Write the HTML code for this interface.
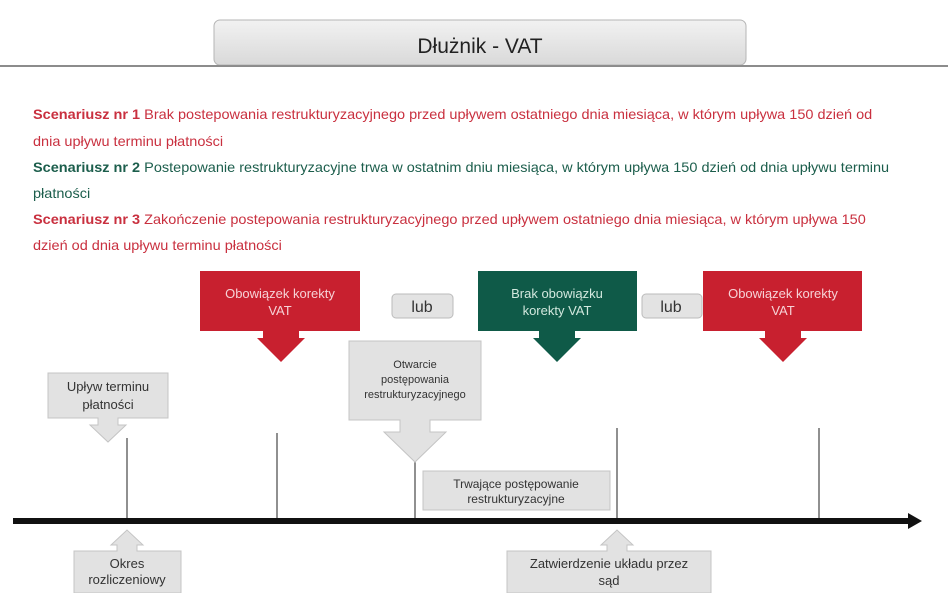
<!DOCTYPE html>
<html><head><meta charset="utf-8"><style>
html,body{margin:0;padding:0;background:#fff;}
body{width:948px;height:593px;overflow:hidden;position:relative;font-family:"Liberation Sans",sans-serif;}
.t{position:absolute;left:33px;font-size:14px;white-space:nowrap;transform-origin:0 0;transform:scaleX(1.035);}
.r{color:#c9303f}.g{color:#1c5e4c}
</style></head><body>
<svg width="948" height="593" style="position:absolute;left:0;top:0" font-family="Liberation Sans, sans-serif">
<defs>
<linearGradient id="hg" x1="0" y1="0" x2="0" y2="1"><stop offset="0" stop-color="#f2f2f2"/><stop offset="1" stop-color="#d9d9d9"/></linearGradient>
</defs>
<line x1="0" y1="66" x2="948" y2="66" stroke="#666" stroke-width="1.5"/>
<rect x="214" y="20" width="532" height="45" rx="6" fill="url(#hg)" stroke="#b5b5b5"/>
<text x="480" y="53" font-size="21" text-anchor="middle" fill="#222">Dłużnik - VAT</text>

<rect x="200" y="271" width="160" height="60" fill="#c8202f"/>
<polygon points="263,331 299,331 299,338 305,338 281,362 257,338 263,338" fill="#c8202f"/>
<text x="280" y="298" font-size="13" text-anchor="middle" fill="#f6d2d6">Obowiązek korekty</text>
<text x="280" y="315" font-size="13" text-anchor="middle" fill="#f6d2d6">VAT</text>
<rect x="392" y="294" width="61" height="24" rx="4" fill="#e3e3e3" stroke="#bbb"/>
<text x="422" y="312" font-size="16" text-anchor="middle" fill="#333">lub</text>
<rect x="478" y="271" width="159" height="60" fill="#0f5a48"/>
<polygon points="539,331 575,331 575,338 581,338 557,362 533,338 539,338" fill="#0f5a48"/>
<text x="557" y="298" font-size="13" text-anchor="middle" fill="#d2e8de">Brak obowiązku</text>
<text x="557" y="315" font-size="13" text-anchor="middle" fill="#d2e8de">korekty VAT</text>
<rect x="642" y="294" width="60" height="24" rx="4" fill="#e3e3e3" stroke="#bbb"/>
<text x="671" y="312" font-size="16" text-anchor="middle" fill="#333">lub</text>
<rect x="703" y="271" width="159" height="60" fill="#c8202f"/>
<polygon points="765,331 801,331 801,338 807,338 783,362 759,338 765,338" fill="#c8202f"/>
<text x="783" y="298" font-size="13" text-anchor="middle" fill="#f6d2d6">Obowiązek korekty</text>
<text x="783" y="315" font-size="13" text-anchor="middle" fill="#f6d2d6">VAT</text>

<g stroke="#555" stroke-width="1.3">
<line x1="127" y1="438" x2="127" y2="518"/>
<line x1="277" y1="433" x2="277" y2="518"/>
<line x1="415" y1="462" x2="415" y2="518"/>
<line x1="617" y1="428" x2="617" y2="518"/>
<line x1="819" y1="428" x2="819" y2="518"/>
</g>

<polygon points="48,373 168,373 168,418 118,418 118,425 126,425 108,442 90,425 98,425 98,418 48,418" fill="#e2e2e2" stroke="#c4c4c4"/>
<text x="108" y="391" font-size="13" text-anchor="middle" fill="#333">Upływ terminu</text>
<text x="108" y="409" font-size="13" text-anchor="middle" fill="#333">płatności</text>
<polygon points="349,341 481,341 481,420 430,420 430,432 446,432 415,462 384,432 400,432 400,420 349,420" fill="#e2e2e2" stroke="#c4c4c4"/>
<text x="415" y="368" font-size="11" text-anchor="middle" fill="#333">Otwarcie</text>
<text x="415" y="383" font-size="11" text-anchor="middle" fill="#333">postępowania</text>
<text x="415" y="398" font-size="11" text-anchor="middle" fill="#333">restrukturyzacyjnego</text>
<rect x="423" y="471" width="187" height="39" fill="#e2e2e2" stroke="#c4c4c4"/>
<text x="516" y="488" font-size="12" text-anchor="middle" fill="#333">Trwające postępowanie</text>
<text x="516" y="503" font-size="12" text-anchor="middle" fill="#333">restrukturyzacyjne</text>

<rect x="13" y="518" width="898" height="6" fill="#111"/>
<polygon points="908,513 922,521 908,529" fill="#111"/>

<polygon points="74,551 117,551 117,545 111,545 127,530 143,545 137,545 137,551 181,551 181,593 74,593" fill="#e2e2e2" stroke="#c4c4c4"/>
<text x="127" y="568" font-size="13" text-anchor="middle" fill="#333">Okres</text>
<text x="127" y="584" font-size="13" text-anchor="middle" fill="#333">rozliczeniowy</text>
<polygon points="507,551 607,551 607,545 601,545 617,530 633,545 627,545 627,551 711,551 711,593 507,593" fill="#e2e2e2" stroke="#c4c4c4"/>
<text x="609" y="568" font-size="13" text-anchor="middle" fill="#333">Zatwierdzenie układu przez</text>
<text x="609" y="585" font-size="13" text-anchor="middle" fill="#333">sąd</text>
</svg>

<div class="t r" style="top:106px"><b>Scenariusz nr 1</b> Brak postepowania restrukturyzacyjnego przed upływem ostatniego dnia miesiąca, w którym upływa 150 dzień od</div>
<div class="t r" style="top:133px">dnia upływu terminu płatności</div>
<div class="t g" style="top:159px"><b>Scenariusz nr 2</b> Postepowanie restrukturyzacyjne trwa w ostatnim dniu miesiąca, w którym upływa 150 dzień od dnia upływu terminu</div>
<div class="t g" style="top:185px">płatności</div>
<div class="t r" style="top:211px"><b>Scenariusz nr 3</b> Zakończenie postepowania restrukturyzacyjnego przed upływem ostatniego dnia miesiąca, w którym upływa 150</div>
<div class="t r" style="top:237px">dzień od dnia upływu terminu płatności</div>
</body></html>
